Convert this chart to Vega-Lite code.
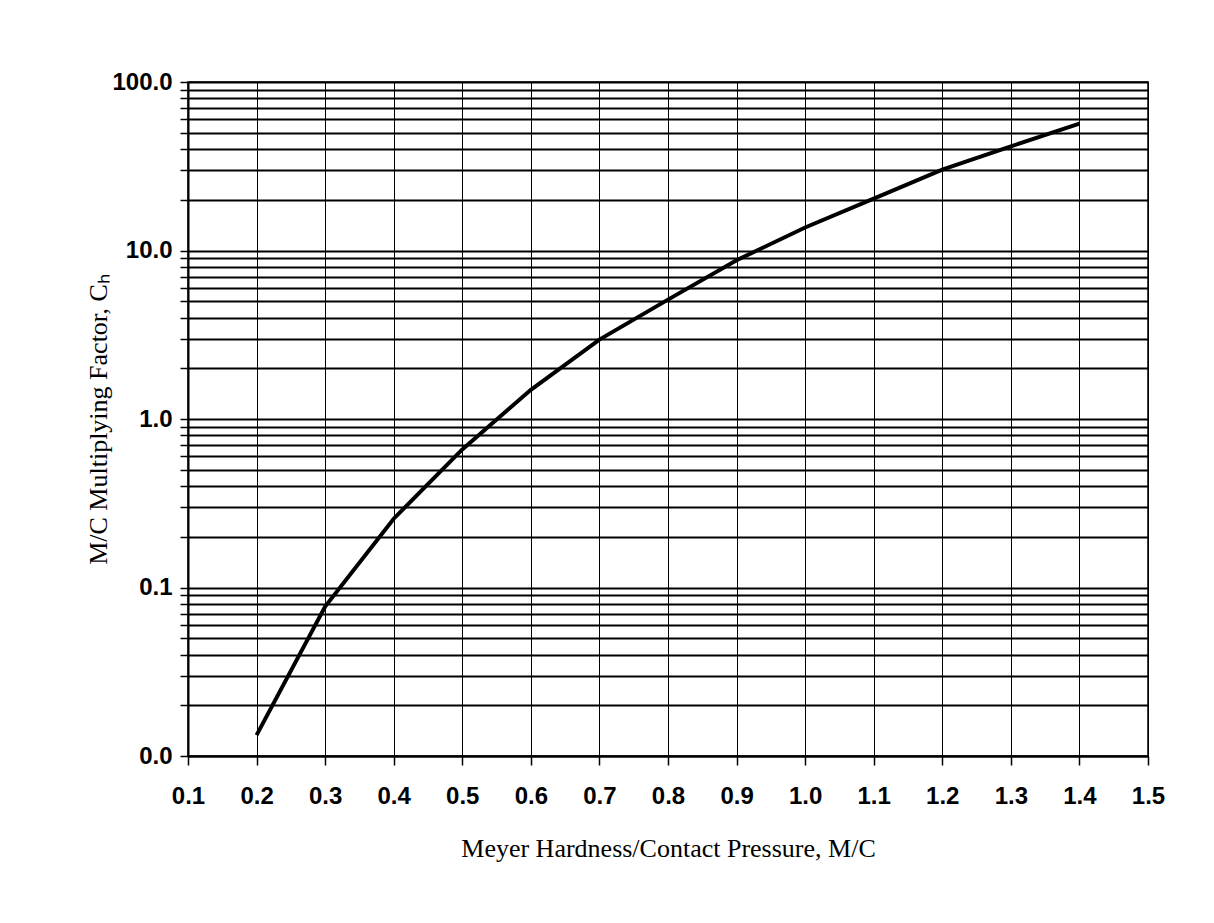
{
  "$schema": "https://vega.github.io/schema/vega-lite/v6.json",
  "width": 960,
  "height": 674,
  "autosize": {"type": "none"},
  "padding": {"left": 188, "top": 82, "right": 66, "bottom": 167},
  "background": "white",
  "config": {"view": {"stroke": "black", "strokeWidth": 1.5}},
  "data": {
    "values": [
      {"mc": 0.2, "ch": 0.0133},
      {"mc": 0.3, "ch": 0.077},
      {"mc": 0.4, "ch": 0.256},
      {"mc": 0.5, "ch": 0.66},
      {"mc": 0.6, "ch": 1.49},
      {"mc": 0.7, "ch": 2.96},
      {"mc": 0.8, "ch": 5.11},
      {"mc": 0.9, "ch": 8.75},
      {"mc": 1.0, "ch": 13.7},
      {"mc": 1.1, "ch": 20.3},
      {"mc": 1.2, "ch": 30.2},
      {"mc": 1.3, "ch": 41.5},
      {"mc": 1.4, "ch": 56.6}
    ]
  },
  "mark": {"type": "line", "color": "black", "strokeWidth": 4},
  "encoding": {
    "x": {
      "field": "mc",
      "type": "quantitative",
      "scale": {"domain": [0.1, 1.5], "nice": false, "zero": false},
      "axis": {
        "values": [0.1, 0.2, 0.3, 0.4, 0.5, 0.6, 0.7, 0.8, 0.9, 1.0, 1.1, 1.2, 1.3, 1.4, 1.5],
        "format": ".1f",
        "title": "Meyer Hardness/Contact Pressure, M/C",
        "grid": true,
        "gridColor": "black",
        "gridWidth": 1,
        "gridOpacity": 1,
        "domainColor": "black",
        "domainWidth": 2,
        "tickColor": "black",
        "tickWidth": 1.5,
        "tickSize": 9,
        "labelFont": "Liberation Sans",
        "labelFontSize": 24,
        "labelFontWeight": "bold",
        "labelColor": "black",
        "labelPadding": 19,
        "labelFlush": false,
        "titleFont": "Liberation Serif",
        "titleFontSize": 26,
        "titleFontWeight": "normal",
        "titleColor": "black",
        "titlePadding": 27
      }
    },
    "y": {
      "field": "ch",
      "type": "quantitative",
      "scale": {"type": "log", "domain": [0.01, 100], "nice": false},
      "axis": {
        "values": [0.01, 0.02, 0.03, 0.04, 0.05, 0.06, 0.07, 0.08, 0.09, 0.1, 0.2, 0.3, 0.4, 0.5, 0.6, 0.7, 0.8, 0.9, 1, 2, 3, 4, 5, 6, 7, 8, 9, 10, 20, 30, 40, 50, 60, 70, 80, 90, 100],
        "labelExpr": "indexof([0.01, 0.1, 1, 10, 100], datum.value) >= 0 ? format(datum.value, '.1f') : ''",
        "title": "M/C Multiplying Factor, Cₕ",
        "grid": true,
        "gridColor": "black",
        "gridWidth": 2,
        "gridOpacity": 1,
        "domainColor": "black",
        "domainWidth": 2,
        "tickColor": "black",
        "tickWidth": 1.5,
        "tickSize": 8,
        "labelFont": "Liberation Sans",
        "labelFontSize": 24,
        "labelFontWeight": "bold",
        "labelColor": "black",
        "labelPadding": 8,
        "labelFlush": false,
        "labelOverlap": false,
        "titleFont": "Liberation Serif",
        "titleFontSize": 26,
        "titleFontWeight": "normal",
        "titleColor": "black",
        "titlePadding": 0
      }
    }
  }
}
